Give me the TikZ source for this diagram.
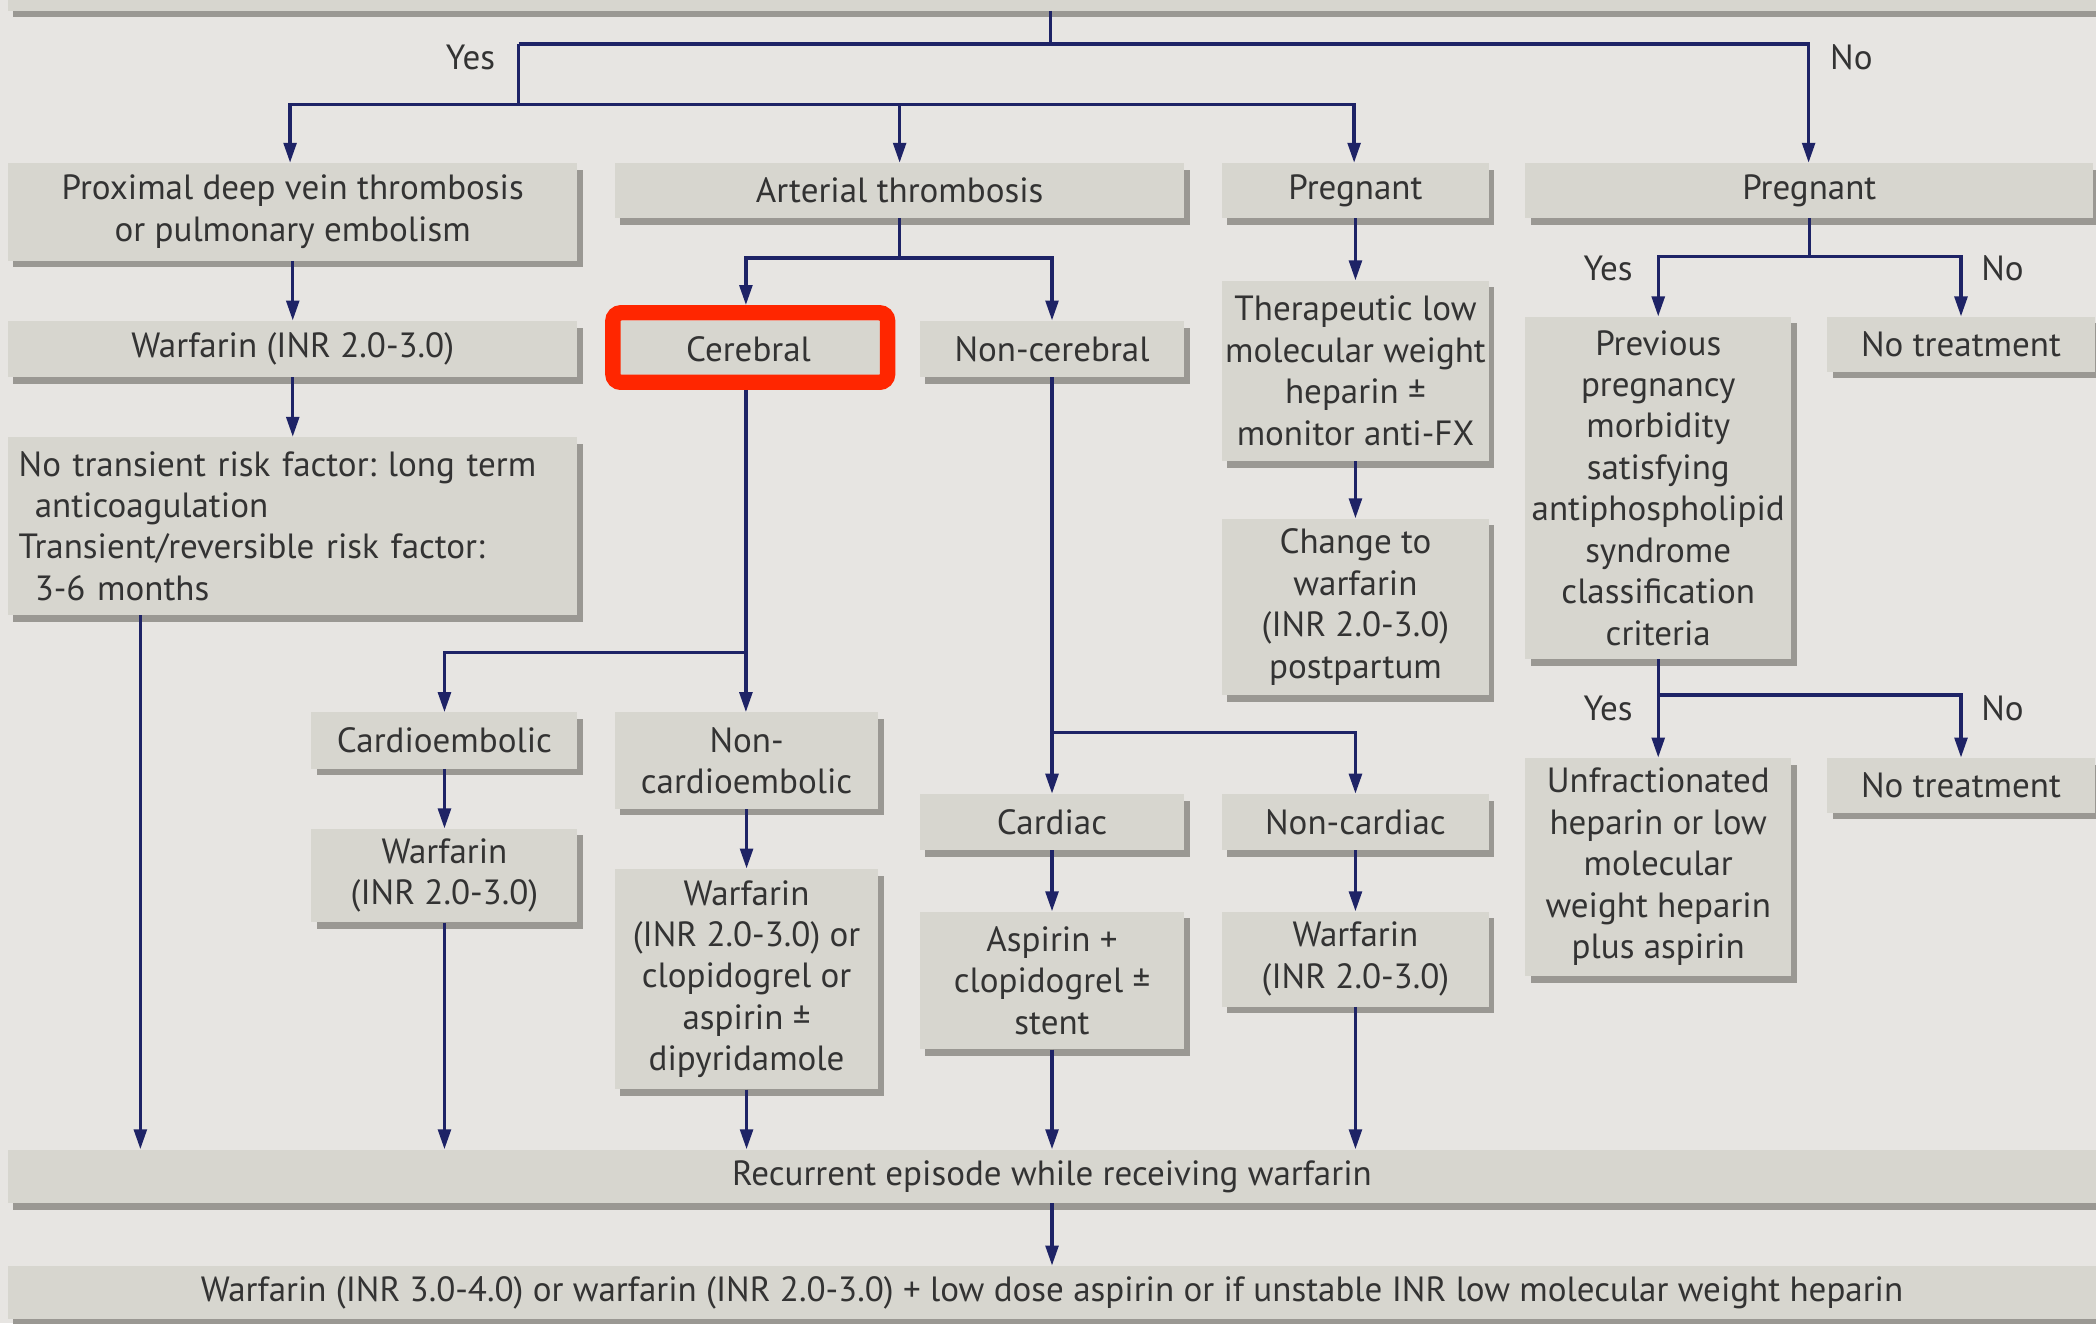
\documentclass[tikz,border=0pt]{standalone}
\usepackage{fontspec}
\setmainfont{PT Sans}
\frenchspacing
\usetikzlibrary{arrows.meta,shadows}
\definecolor{bg}{HTML}{E7E5E2}
\definecolor{boxc}{HTML}{D7D6CF}
\definecolor{shad}{HTML}{9A9893}
\definecolor{txt}{HTML}{333333}
\definecolor{navy}{HTML}{1E2366}
\definecolor{hl}{HTML}{FF2600}
\tikzset{
 box/.style={fill=boxc, inner sep=0pt, text=txt, align=center,
   font=\fontsize{26.2}{31}\selectfont,
   drop shadow={shadow xshift=4pt, shadow yshift=-5pt, fill=shad, opacity=1}},
 lbl/.style={text=txt, font=\fontsize{26.2}{31}\selectfont, inner sep=0pt},
 line/.style={draw=navy, line width=2.6pt},
 arr/.style={line, -{Triangle[length=15pt,width=9.5pt]}},
 hlbox/.style={draw=hl, line width=11.5pt, rounded corners=6pt, inner sep=0pt, outer sep=0pt},
}
\begin{document}
\begin{tikzpicture}[x=1pt,y=-1pt]
\clip (0,0) rectangle (1568,990);
\fill[bg] (0,0) rectangle (1568,990);

% boxes
\node[box, minimum width=1594pt, minimum height=48pt] (top) at (803,-16) {};
\node[box, minimum width=426pt, minimum height=73pt] (prox) at (219,158.5) {Proximal deep vein thrombosis\\or pulmonary embolism};
\node[box, minimum width=426pt, minimum height=41pt] (art) at (673,142.5) {Arterial thrombosis};
\node[box, minimum width=200pt, minimum height=41pt] (pregM) at (1014,142.5) {Pregnant};
\node[box, minimum width=425pt, minimum height=41pt] (pregR) at (1353.5,142.5) {Pregnant};
\node[box, minimum width=426pt, minimum height=42pt] (warf1) at (219,261) {Warfarin (INR 2.0-3.0)};
\node[box, minimum width=197pt, minimum height=42pt] (cereb) at (560,261) {Cerebral};
\node[box, minimum width=198pt, minimum height=42pt] (noncer) at (787,261) {Non-cerebral};
\node[box, minimum width=200pt, minimum height=135pt] (ther) at (1014,277.5) {Therapeutic low\\molecular weight\\heparin ±\\monitor anti-FX};
\node[box, minimum width=199pt, minimum height=256pt] (prev) at (1240.5,365) {Previous\\pregnancy\\morbidity\\satisfying\\antiphospholipid\\syndrome\\classification\\criteria};
\node[box, minimum width=200pt, minimum height=41pt] (notr1) at (1467,257.5) {No treatment};
\node[box, minimum width=426pt, minimum height=133pt, text width=410pt, align=left] (notrans) at (219,393.5) {No transient risk factor: long term\\\hspace*{12pt}anticoagulation\\Transient/reversible risk factor:\\\hspace*{12pt}3-6 months};
\node[box, minimum width=200pt, minimum height=132pt] (change) at (1014,454) {Change to\\warfarin\\(INR 2.0-3.0)\\postpartum};
\node[box, minimum width=199pt, minimum height=42pt] (cardemb) at (332.5,554) {Cardioembolic};
\node[box, minimum width=197pt, minimum height=72pt] (noncardemb) at (558.5,569) {Non-\\cardioembolic};
\node[box, minimum width=198pt, minimum height=42pt] (cardiac) at (787,615) {Cardiac};
\node[box, minimum width=200pt, minimum height=42pt] (noncardiac) at (1014,615) {Non-cardiac};
\node[box, minimum width=199pt, minimum height=163pt] (unfrac) at (1240.5,648.5) {Unfractionated\\heparin or low\\molecular\\weight heparin\\plus aspirin};
\node[box, minimum width=200pt, minimum height=41pt] (notr2) at (1467,587.5) {No treatment};
\node[box, minimum width=199pt, minimum height=70pt] (warf2) at (332.5,655) {Warfarin\\(INR 2.0-3.0)};
\node[box, minimum width=197pt, minimum height=165pt] (warf3) at (558.5,732.5) {Warfarin\\(INR 2.0-3.0) or\\clopidogrel or\\aspirin ±\\dipyridamole};
\node[box, minimum width=198pt, minimum height=103pt] (aspirin) at (787,733.5) {Aspirin +\\clopidogrel ±\\stent};
\node[box, minimum width=200pt, minimum height=71pt] (warf4) at (1014,717.5) {Warfarin\\(INR 2.0-3.0)};
\node[box, minimum width=1562pt, minimum height=40pt] (recur) at (787,880) {Recurrent episode while receiving warfarin};
\node[box, minimum width=1562pt, minimum height=40pt] (final) at (787,967) {Warfarin (INR 3.0-4.0) or warfarin (INR 2.0-3.0) + low dose aspirin or if unstable INR low molecular weight heparin};

% highlight frame
\node[hlbox, minimum width=205.5pt, minimum height=52pt] (hlf) at (561.25,260) {};

% junctions
\coordinate (j0) at (786,33);
\coordinate (jY) at (388,33);
\coordinate (jN) at (1353,33);
\coordinate (jY2) at (388,78);
\coordinate (jL) at (217,78);
\coordinate (jR) at (1013,78);
\coordinate (ja) at (672,193);
\coordinate (jc) at (558,488);
\coordinate (jn) at (786,548);
\coordinate (jp) at (1353,192);
\coordinate (jq) at (1240,520);
\coordinate (c1) at (105,0);
\coordinate (c2) at (558,0);

% connectors
\draw[line] (top.south -| j0) -- (j0);
\draw[arr] (jY) -- (jN) -- (jN |- pregR.north);
\draw[line] (jY) -- (jY2);
\draw[arr] (jY2) -- (jL) -- (jL |- prox.north);
\draw[arr] (jY2) -- (jR) -- (jR |- pregM.north);
\draw[arr] (art.north |- jL) -- (art.north);

\draw[arr] (prox.south) -- (warf1.north);
\draw[arr] (warf1.south) -- (notrans.north);
\draw[arr] (notrans.south -| c1) -- (recur.north -| c1);

\draw[line] (art.south) -- (art.south |- ja);
\draw[arr] (art.south |- ja) -- (c2 |- ja) -- ([yshift=5.75pt]hlf.north -| c2);
\draw[arr] (art.south |- ja) -- (noncer.north |- ja) -- (noncer.north);

\draw[arr] ([yshift=-5.75pt]hlf.south -| c2) -- (noncardemb.north -| c2);
\draw[arr] (c2 |- jc) -- (cardemb.north |- jc) -- (cardemb.north);
\draw[arr] (cardemb.south) -- (warf2.north);
\draw[arr] (warf2.south) -- (warf2.south |- recur.north);
\draw[arr] (noncardemb.south) -- (warf3.north);
\draw[arr] (warf3.south) -- (warf3.south |- recur.north);

\draw[arr] (noncer.south) -- (cardiac.north);
\draw[arr] (noncer.south |- jn) -- (noncardiac.north |- jn) -- (noncardiac.north);
\draw[arr] (cardiac.south) -- (aspirin.north);
\draw[arr] (noncardiac.south) -- (warf4.north);
\draw[arr] (aspirin.south) -- (aspirin.south |- recur.north);
\draw[arr] (warf4.south) -- (warf4.south |- recur.north);

\draw[arr] (pregM.south) -- (ther.north);
\draw[arr] (ther.south) -- (change.north);

\draw[line] (pregR.south) -- (pregR.south |- jp);
\draw[arr] (pregR.south |- jp) -- (prev.north |- jp) -- (prev.north);
\draw[arr] (pregR.south |- jp) -- (notr1.north |- jp) -- (notr1.north);
\draw[arr] (prev.south) -- (unfrac.north);
\draw[arr] (prev.south |- jq) -- (notr2.north |- jq) -- (notr2.north);

\draw[arr] (recur.south) -- (final.north);

% labels
\node[lbl] (lY1) at (352,43) {Yes};
\node[lbl] (lN1) at (1385,43) {No};
\node[lbl] (lY2) at (1203,201) {Yes};
\node[lbl] (lN2) at (1498,201) {No};
\node[lbl] (lY3) at (1203,530) {Yes};
\node[lbl] (lN3) at (1498,530) {No};
\end{tikzpicture}
\end{document}
